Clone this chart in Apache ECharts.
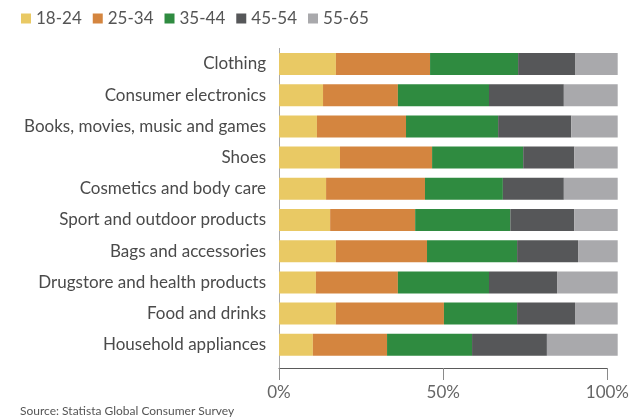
<!DOCTYPE html>
<html>
<head>
<meta charset="utf-8">
<script src="https://cdn.jsdelivr.net/npm/echarts@6/dist/echarts.min.js"></script>
<style>
  html, body { margin: 0; padding: 0; background: #ffffff; }
  #chart { width: 632px; height: 417px; }
</style>
</head>
<body>
<div id="chart"></div>
<script>
// Product categories, top to bottom
const categories = [
  'Clothing',
  'Consumer electronics',
  'Books, movies, music and games',
  'Shoes',
  'Cosmetics and body care',
  'Sport and outdoor products',
  'Bags and accessories',
  'Drugstore and health products',
  'Food and drinks',
  'Household appliances'
];

// Share of buyers by age group, in percent
const age18to24 = [16.8, 13.0, 11.2, 18.0, 13.9, 15.1, 16.8, 10.9, 16.8, 10.0];
const age25to34 = [27.8, 22.1, 26.3, 27.2, 29.2, 25.1, 26.9, 24.2, 31.9, 21.9];
const age35to44 = [26.0, 26.9, 27.2, 26.9, 23.0, 28.1, 26.6, 26.9, 21.6, 25.1];
const age45to54 = [16.8, 22.1, 21.6, 15.1, 18.0, 18.9, 18.0, 20.1, 17.1, 22.1];
const age55to65 = [12.6, 16.2, 14.2, 13.3, 16.2, 13.3, 12.1, 18.3, 12.6, 21.3];

const ageGroups = ['18-24', '25-34', '35-44', '45-54', '55-65'];
const groupValues = [age18to24, age25to34, age35to44, age45to54, age55to65];
const groupColors = ['#E9C964', '#D4853F', '#2F8B40', '#565759', '#A9A9AC'];

// Axis tick values
const xTicks = { min: 0, max: 100, interval: 50 };

const FONT = 'Lato, "Source Sans Pro", "Noto Sans", sans-serif';

const chart = echarts.init(document.getElementById('chart'), null, { renderer: 'canvas' });

const series = ageGroups.map((name, i) => ({
  name: name,
  type: 'bar',
  stack: 'share',
  xAxisIndex: 0,
  yAxisIndex: 0,
  barWidth: 22,
  itemStyle: { color: groupColors[i] },
  emphasis: { disabled: true },
  data: groupValues[i]
}));

chart.setOption({
  animation: false,
  textStyle: { fontFamily: FONT },
  title: {
    text: 'Source: Statista Global Consumer Survey',
    left: 20,
    top: 405,
    padding: 0,
    textStyle: { fontSize: 12, fontWeight: 'normal', color: '#555555', fontFamily: FONT }
  },
  legend: {
    data: ageGroups,
    left: 21,
    top: 10,
    icon: 'rect',
    itemWidth: 10,
    itemHeight: 10,
    itemGap: 11,
    padding: 0,
    textStyle: { fontSize: 17, color: '#555555', fontFamily: FONT }
  },
  grid: [
    // plot area for the bars
    { left: 279, right: 14.3, top: 48.4, height: 312, containLabel: false },
    // frame carrying the visible axes
    { left: 279, right: 14.3, top: 48.4, bottom: 49, containLabel: false }
  ],
  xAxis: [
    {
      gridIndex: 0,
      type: 'value',
      min: xTicks.min,
      max: xTicks.max,
      interval: xTicks.interval,
      show: false
    },
    {
      gridIndex: 1,
      type: 'value',
      min: xTicks.min,
      max: xTicks.max,
      interval: xTicks.interval,
      axisLine: { show: true, lineStyle: { color: '#5a5a5a', width: 1 } },
      axisTick: { show: true, length: 12, lineStyle: { color: '#8a8a8a', width: 1 } },
      splitLine: { show: false },
      axisLabel: {
        formatter: '{value}%',
        fontSize: 17,
        color: '#666666',
        margin: 16,
        alignMinLabel: 'center',
        alignMaxLabel: 'center',
        fontFamily: FONT
      }
    }
  ],
  yAxis: [
    {
      gridIndex: 0,
      type: 'category',
      inverse: true,
      data: categories,
      axisLine: { show: false },
      axisTick: { show: false },
      axisLabel: {
        fontSize: 17,
        color: '#4a4a4a',
        margin: 13,
        fontFamily: FONT
      }
    },
    {
      gridIndex: 1,
      type: 'value',
      min: 0,
      max: 1,
      axisLine: { show: true, lineStyle: { color: '#a8a8a8', width: 1 } },
      axisTick: { show: false },
      axisLabel: { show: false },
      splitLine: { show: false }
    }
  ],
  series: series
});
</script>
</body>
</html>
